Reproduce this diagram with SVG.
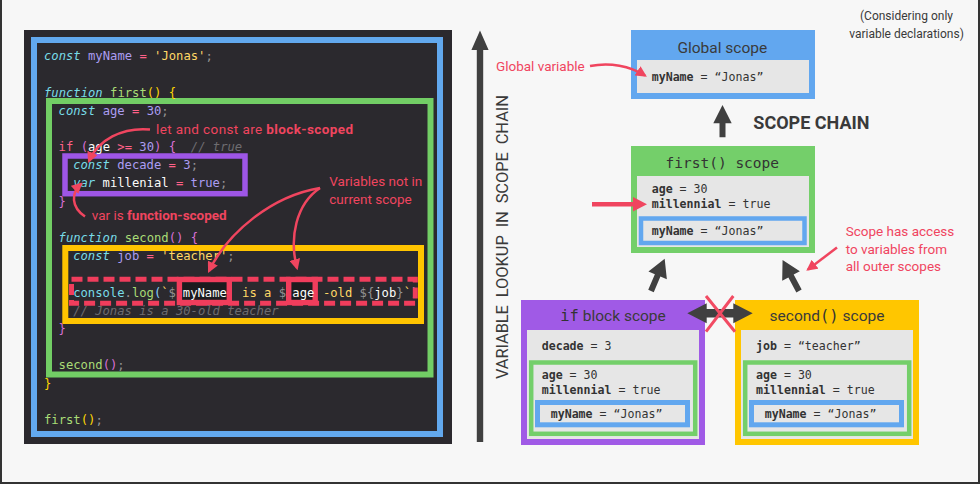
<svg xmlns="http://www.w3.org/2000/svg" width="980" height="484" viewBox="0 0 980 484">
<defs>
<style>
.c{font-family:"DejaVu Sans Mono","Liberation Mono",monospace;font-size:12.2px;fill:#fcfcfa;white-space:pre}
.kw{fill:#78dce8;font-style:italic}
.vr{fill:#ab9df2}
.op{fill:#ff6188}
.st{fill:#ffd866}
.pu{fill:#939293}
.fn{fill:#a9dc76}
.b1{fill:#ffd700}
.b2{fill:#da70d6}
.b3{fill:#87cefa}
.nu{fill:#ab9df2}
.cm{fill:#6e6c70;font-style:italic}
.cn{fill:#78dce8}
.note{font-family:Roboto,"Liberation Sans",sans-serif;font-size:13.5px;fill:#f0455f}
.b{font-weight:bold}
.sans{font-family:Roboto,"Liberation Sans",sans-serif;fill:#3a3a3a}
.mono{font-family:"DejaVu Sans Mono","Liberation Mono",monospace;fill:#333}
.v{font-family:"DejaVu Sans Mono","Liberation Mono",monospace;font-size:11.6px;fill:#333;white-space:pre}
.gray{fill:#e6e6e6}
.redl{fill:none;stroke:#f0455f;stroke-width:2.5}
.dark{fill:#404040}
</style>
<marker id="ah" viewBox="0 0 10 10" refX="8" refY="5" markerWidth="11" markerHeight="11" markerUnits="userSpaceOnUse" orient="auto">
<path d="M0,0 L10,5 L0,10 z" fill="#f0455f"/>
</marker>
</defs>

<rect x="0" y="0" width="980" height="484" fill="#f7f7f7"/>
<rect x="0" y="0" width="2" height="484" fill="#333"/>
<rect x="978" y="0" width="2" height="484" fill="#333"/>
<rect x="0" y="482" width="980" height="2" fill="#333"/>

<g id="code-panel">
<rect x="24" y="30" width="428" height="414" fill="#2b292e"/>
<rect x="34" y="40" width="406" height="394" fill="none" stroke="#62a8ee" stroke-width="6"/>
<rect x="49" y="101" width="381.5" height="273.5" fill="none" stroke="#72cd65" stroke-width="6"/>
<rect x="65" y="156" width="180" height="37.7" fill="none" stroke="#9e56e6" stroke-width="5.5"/>
<rect x="65.3" y="248" width="355.7" height="73" fill="none" stroke="#ffc400" stroke-width="6"/>

<g class="c">
<text x="44" y="60" xml:space="preserve"><tspan class="kw">const</tspan> <tspan class="vr">myName</tspan> <tspan class="op">=</tspan> <tspan class="st">'Jonas'</tspan><tspan class="pu">;</tspan></text>
<text x="44" y="96.5" xml:space="preserve"><tspan class="kw">function</tspan> <tspan class="fn">first</tspan><tspan class="b1">()</tspan> <tspan class="b1">{</tspan></text>
<text x="58.6" y="114.7" xml:space="preserve"><tspan class="kw">const</tspan> <tspan class="vr">age</tspan> <tspan class="op">=</tspan> <tspan class="nu">30</tspan><tspan class="pu">;</tspan></text>
<text x="58.6" y="151" xml:space="preserve"><tspan class="op">if</tspan> <tspan class="b2">(</tspan>age <tspan class="op">&gt;=</tspan> <tspan class="nu">30</tspan><tspan class="b2">)</tspan> <tspan class="b2">{</tspan><tspan class="cm" x="190.8">// true</tspan></text>
<text x="73.2" y="169.2" xml:space="preserve"><tspan class="kw">const</tspan> <tspan class="vr">decade</tspan> <tspan class="op">=</tspan> <tspan class="nu">3</tspan><tspan class="pu">;</tspan></text>
<text x="73.2" y="187.4" xml:space="preserve"><tspan class="kw">var</tspan> millenial <tspan class="op">=</tspan> <tspan class="nu">true</tspan><tspan class="pu">;</tspan></text>
<text x="58.6" y="205.6"><tspan class="b2">}</tspan></text>
<text x="58.6" y="242" xml:space="preserve"><tspan class="kw">function</tspan> <tspan class="fn">second</tspan><tspan class="b2">()</tspan> <tspan class="b2">{</tspan></text>
<text x="73.2" y="260.2" xml:space="preserve"><tspan class="kw">const</tspan> <tspan class="vr">job</tspan> <tspan class="op">=</tspan> <tspan class="st">'teacher'</tspan><tspan class="pu">;</tspan></text>
<text x="73.2" y="296.6"><tspan class="cn">console</tspan><tspan class="pu">.</tspan><tspan class="fn">log</tspan><tspan class="b3">(</tspan><tspan class="st">`</tspan><tspan class="pu">$</tspan><tspan class="st" x="242.1">is a</tspan><tspan class="pu" x="278.8">$</tspan><tspan class="st" x="322.9">-old</tspan><tspan class="pu" x="359.6">${</tspan><tspan>job</tspan><tspan class="pu">}</tspan><tspan class="st">`</tspan><tspan class="b3">)</tspan></text>
<text x="73.2" y="314.8" xml:space="preserve"><tspan class="cm">// Jonas is a 30-old teacher</tspan></text>
<text x="58.6" y="333"><tspan class="b2">}</tspan></text>
<text x="58.6" y="369.4"><tspan class="fn">second</tspan><tspan class="b2">()</tspan><tspan class="pu">;</tspan></text>
<text x="44" y="387.6"><tspan class="b1">}</tspan></text>
<text x="44" y="424"><tspan class="fn">first</tspan><tspan class="b1">()</tspan><tspan class="pu">;</tspan></text>
</g>

<rect x="71.5" y="279.3" width="343.8" height="24" fill="none" stroke="#f03d5c" stroke-width="5" stroke-dasharray="11 5"/>
<rect x="179.4" y="279.5" width="49.9" height="23" fill="#1c1b1e" stroke="#f03d5c" stroke-width="5.4"/>
<rect x="288.7" y="279.5" width="26.5" height="23" fill="#1c1b1e" stroke="#f03d5c" stroke-width="5.4"/>
<text class="c" x="182.8" y="296.6" fill="#ffffff">myName</text>
<text class="c" x="292.3" y="296.6" fill="#ffffff">age</text>

<text class="note" x="156" y="134" textLength="197" lengthAdjust="spacing">let and const are <tspan class="b">block-scoped</tspan></text>
<text class="note" x="91.7" y="219.7">var is <tspan class="b">function-scoped</tspan></text>
<text class="note" x="329.3" y="186.4">Variables not in</text>
<text class="note" x="329.3" y="203.7">current scope</text>
</g>

<g id="side-labels">
<text class="sans" transform="translate(507.5,237) rotate(-90)" text-anchor="middle" font-size="16.5" fill="#444" textLength="284" lengthAdjust="spacing" xml:space="preserve">VARIABLE  LOOKUP  IN  SCOPE  CHAIN</text>
<text class="sans" x="753.3" y="129.2" font-size="18" font-weight="bold" fill="#333">SCOPE CHAIN</text>
<text class="sans" x="906.5" y="20" font-size="12" text-anchor="middle" fill="#333">(Considering only</text>
<text class="sans" x="906.5" y="37.5" font-size="12" text-anchor="middle" fill="#333">variable declarations)</text>
<text class="note" x="496" y="71.4">Global variable</text>
<text class="note" x="845.7" y="236.4">Scope has access</text>
<text class="note" x="845.7" y="254">to variables from</text>
<text class="note" x="845.7" y="271.4">all outer scopes</text>
</g>

<g id="global-scope">
<rect x="631" y="30" width="184" height="69" fill="#62a7ef"/>
<text class="sans" x="722.3" y="52.8" font-size="15.5" text-anchor="middle">Global scope</text>
<rect class="gray" x="637" y="60" width="172" height="33"/>
<text class="v" x="651.7" y="81.3" xml:space="preserve"><tspan font-weight="bold">myName</tspan> = “Jonas”</text>
</g>

<g id="first-scope">
<rect x="631" y="146" width="184" height="107" fill="#74cf6a"/>
<text class="mono" x="722.3" y="167.7" font-size="14.5" text-anchor="middle">first() scope</text>
<rect class="gray" x="637" y="176" width="172" height="71"/>
<text class="v" x="651.7" y="193.3" xml:space="preserve"><tspan font-weight="bold">age</tspan> = 30</text>
<text class="v" x="651.7" y="208" xml:space="preserve"><tspan font-weight="bold">millennial</tspan> = true</text>
<rect x="641" y="218.5" width="163.5" height="24.5" fill="#e6e6e6" stroke="#62a7ef" stroke-width="4.5"/>
<text class="v" x="651.7" y="234.7" xml:space="preserve"><tspan font-weight="bold">myName</tspan> = “Jonas”</text>
</g>

<g id="if-block-scope">
<rect x="521" y="300" width="184" height="145" fill="#a05ae6"/>
<text x="613" y="321" text-anchor="middle" font-size="15.5" fill="#333"><tspan class="mono">if</tspan><tspan class="sans" fill="#333"> block scope</tspan></text>
<rect class="gray" x="527" y="330" width="172" height="109"/>
<text class="v" x="541.7" y="350" xml:space="preserve"><tspan font-weight="bold">decade</tspan> = 3</text>
<rect x="531.2" y="362.5" width="164" height="71.3" fill="#e6e6e6" stroke="#74cf6a" stroke-width="4.5"/>
<text class="v" x="541.7" y="379" xml:space="preserve"><tspan font-weight="bold">age</tspan> = 30</text>
<text class="v" x="541.7" y="394" xml:space="preserve"><tspan font-weight="bold">millennial</tspan> = true</text>
<rect x="537.5" y="402.5" width="150" height="22.3" fill="#e6e6e6" stroke="#62a7ef" stroke-width="5"/>
<text class="v" x="550.7" y="418" xml:space="preserve"><tspan font-weight="bold">myName</tspan> = “Jonas”</text>
</g>

<g id="second-scope">
<rect x="735" y="300" width="184" height="145" fill="#ffc600"/>
<text x="827" y="321" text-anchor="middle" font-size="15.5" fill="#333"><tspan class="sans" fill="#333">second</tspan><tspan class="mono">()</tspan><tspan class="sans" fill="#333"> scope</tspan></text>
<rect class="gray" x="741" y="330" width="172" height="109"/>
<text class="v" x="756" y="350" xml:space="preserve"><tspan font-weight="bold">job</tspan> = “teacher”</text>
<rect x="745.2" y="362.5" width="164" height="71.3" fill="#e6e6e6" stroke="#74cf6a" stroke-width="4.5"/>
<text class="v" x="756" y="379" xml:space="preserve"><tspan font-weight="bold">age</tspan> = 30</text>
<text class="v" x="756" y="394" xml:space="preserve"><tspan font-weight="bold">millennial</tspan> = true</text>
<rect x="751.5" y="402.5" width="150" height="22.3" fill="#e6e6e6" stroke="#62a7ef" stroke-width="5"/>
<text class="v" x="764.7" y="418" xml:space="preserve"><tspan font-weight="bold">myName</tspan> = “Jonas”</text>
</g>

<g id="connectors">
<path class="redl" d="M150,129.5 C122,127 98,140 89,161" marker-end="url(#ah)"/>
<path class="redl" d="M85,216.5 C71,207 71,193 81,184" marker-end="url(#ah)"/>
<path class="redl" d="M320,188 C272,196 228,232 209,271" marker-end="url(#ah)"/>
<path class="redl" d="M320,188 C296,204 289,238 297,268" marker-end="url(#ah)"/>
<path class="redl" d="M590,66 C610,62 630,66 645,75.5" marker-end="url(#ah)"/>
<path class="redl" d="M837,247.5 L808,269.5" marker-end="url(#ah)"/>
<path d="M592,204.3 L636,204.3" stroke="#f0455f" stroke-width="4.5" fill="none"/>
<path d="M633,197 L647,204.3 L633,211.6 z" fill="#f0455f"/>

<path class="dark" d="M476.8,442 L476.8,50 L471.4,50 L480,30.5 L488.6,50 L483.2,50 L483.2,442 z"/>
<path class="dark" d="M713.3,123.3 L722.5,105 L731.7,123.3 L725.5,123.3 L725.5,137.3 L719.5,137.3 L719.5,123.3 z"/>
<path class="dark" d="M-3,0 L-3,-17 L-10,-17 L0,-35 L10,-17 L3,-17 L3,0 z" transform="translate(651,291) rotate(23)"/>
<path class="dark" d="M-3,0 L-3,-17 L-10,-17 L0,-35 L10,-17 L3,-17 L3,0 z" transform="translate(799,291) rotate(-28)"/>
<path class="dark" d="M687.3,313.3 L706.7,303.3 L706.7,309 L733.3,309 L733.3,303.3 L752.7,313.3 L733.3,323.3 L733.3,317.6 L706.7,317.6 L706.7,323.3 z"/>
<path d="M706,296 L735,331.7 M733.3,296 L706,331.7" stroke="#f24b63" stroke-width="3" fill="none"/>
</g>
</svg>
